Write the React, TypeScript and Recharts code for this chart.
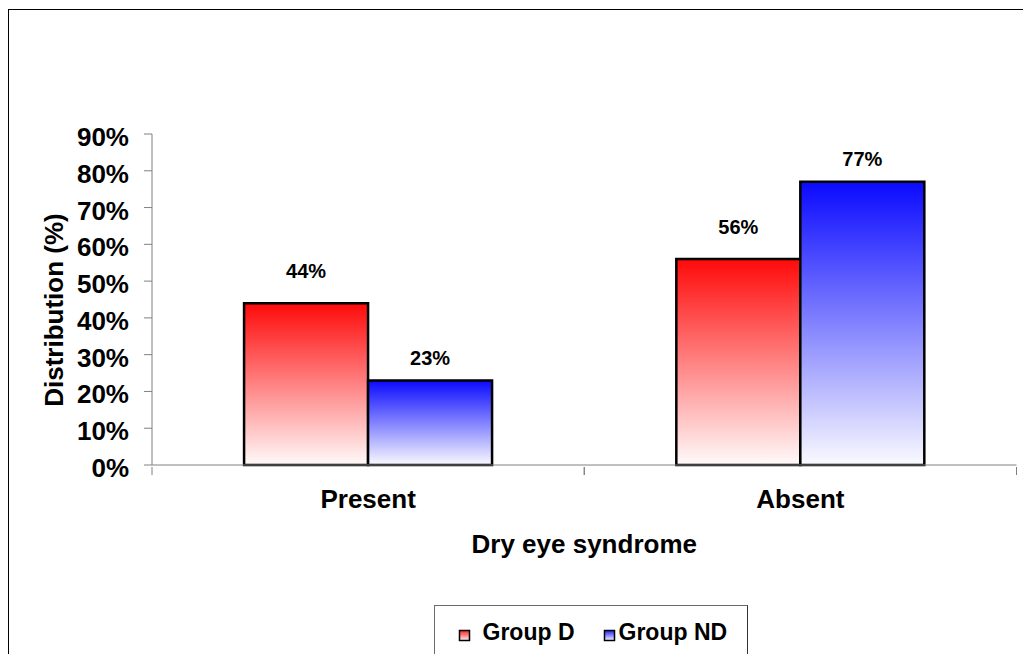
import React from 'react';
import { BarChart, Bar, XAxis, YAxis, Legend, LabelList } from 'recharts';

const categories = ['Present', 'Absent'];
const groupD = [0.44, 0.56];
const groupND = [0.23, 0.77];
const yTicks = [0, 0.1, 0.2, 0.3, 0.4, 0.5, 0.6, 0.7, 0.8, 0.9];
const seriesNames = ['Group D', 'Group ND'];
const xTitle = 'Dry eye syndrome';
const yTitle = 'Distribution (%)';

const data = categories.map((c, i) => ({ category: c, d: groupD[i], nd: groupND[i] }));

const FONT = '"Liberation Sans", Arial, Helvetica, sans-serif';
const pct = (v: number) => `${Math.round(v * 100)}%`;

const YTick = (props: any) => {
  const { x, y, payload } = props;
  return (
    <text x={x} y={y} dy={12} textAnchor="end" fontSize={26} fontWeight="bold" fontFamily={FONT} fill="#000">
      {pct(payload.value)}
    </text>
  );
};

const XTick = (props: any) => {
  const { x, y, payload } = props;
  const half = Number(payload?.offset) || 0;
  return (
    <g>
      {half > 0 && (
        <>
          <line x1={x - half} x2={x - half} y1={y} y2={y + 8} stroke="#808080" strokeWidth={1} />
          <line x1={x + half} x2={x + half} y1={y} y2={y + 8} stroke="#808080" strokeWidth={1} />
        </>
      )}
      <text x={x} y={y} dy={41} textAnchor="middle" fontSize={26} fontWeight="bold" fontFamily={FONT} fill="#000">
        {payload.value}
      </text>
    </g>
  );
};

const XTitle = (props: any) => {
  const vb = props.viewBox || {};
  return (
    <text x={vb.x + vb.width / 2} y={vb.y + 88} textAnchor="middle" fontSize={26} fontWeight="bold" fontFamily={FONT} fill="#000">
      {xTitle}
    </text>
  );
};

const YTitle = (props: any) => {
  const vb = props.viewBox || {};
  const cx = vb.x + 53.5;
  const cy = vb.y + vb.height / 2 + 10.5;
  return (
    <text x={cx} y={cy} transform={`rotate(-90 ${cx} ${cy})`} textAnchor="middle" fontSize={26} fontWeight="bold" fontFamily={FONT} fill="#000">
      {yTitle}
    </text>
  );
};

const makeLabel = (offset: number) => (p: any) => {
  const { x, y, width, value } = p;
  return (
    <text x={Number(x) + Number(width) / 2} y={Number(y) - offset} textAnchor="middle" fontSize={20} fontWeight="bold" fontFamily={FONT} fill="#000">
      {pct(Number(value))}
    </text>
  );
};

const LegendBox = () => (
  <div
    style={{
      width: 314,
      height: 49,
      boxSizing: 'border-box',
      borderLeft: '1px solid #6b6b6b',
      borderTop: '1px solid #6b6b6b',
      borderRight: '1px solid #333',
      background: '#fff',
    }}
  >
    <svg width={312} height={48} style={{ display: 'block' }}>
      <defs>
        <linearGradient id="lgRed" x1="0" y1="0" x2="0" y2="1">
          <stop offset="0%" stopColor="#ff2020" />
          <stop offset="100%" stopColor="#fff4f4" />
        </linearGradient>
        <linearGradient id="lgBlue" x1="0" y1="0" x2="0" y2="1">
          <stop offset="0%" stopColor="#2020ff" />
          <stop offset="100%" stopColor="#f4f4ff" />
        </linearGradient>
      </defs>
      <rect x={24.5} y={24.5} width={10} height={10} fill="url(#lgRed)" stroke="#000" strokeWidth={1.5} />
      <text x={47.5} y={34} fontSize={23} fontWeight="bold" fontFamily={FONT} fill="#000">{seriesNames[0]}</text>
      <rect x={169.5} y={24.5} width={10} height={10} fill="url(#lgBlue)" stroke="#000" strokeWidth={1.5} />
      <text x={183.5} y={34} fontSize={23} fontWeight="bold" fontFamily={FONT} fill="#000">{seriesNames[1]}</text>
    </svg>
  </div>
);

export default function App() {
  return (
    <div
      style={{
        position: 'absolute',
        left: 8,
        top: 9,
        width: 1015,
        height: 645,
        boxSizing: 'border-box',
        borderLeft: '1px solid #000',
        borderTop: '1px solid #000',
        background: '#fff',
        overflow: 'hidden',
      }}
    >
      <BarChart
        width={1014}
        height={644}
        data={data}
        margin={{ top: 124, right: 6.5, bottom: 89, left: 0 }}
        barCategoryGap="21.3%"
        barGap={0}
      >
        <defs>
          <linearGradient id="gradRed" x1="0" y1="0" x2="0" y2="1">
            <stop offset="0%" stopColor="#ff0a0a" />
            <stop offset="100%" stopColor="#fffafa" />
          </linearGradient>
          <linearGradient id="gradBlue" x1="0" y1="0" x2="0" y2="1">
            <stop offset="0%" stopColor="#0a0aff" />
            <stop offset="100%" stopColor="#fafaff" />
          </linearGradient>
        </defs>
        <XAxis
          xAxisId="cat"
          dataKey="category"
          height={100}
          tickSize={0}
          tickLine={false}
          axisLine={{ stroke: '#808080' }}
          tick={<XTick />}
          interval={0}
          label={{ content: <XTitle /> }}
        />
        <YAxis
          domain={[0, 0.9]}
          ticks={yTicks}
          interval={0}
          width={143}
          tickSize={8}
          tickMargin={15}
          axisLine={{ stroke: '#808080' }}
          tickLine={{ stroke: '#808080' }}
          tick={<YTick />}
          label={{ content: <YTitle /> }}
        />
        <Legend
          verticalAlign="middle"
          align="center"
          layout="horizontal"
          wrapperStyle={{ left: 425, top: 595, width: 314, height: 49 }}
          content={<LegendBox />}
        />
        <Bar xAxisId="cat" dataKey="d" name={seriesNames[0]} fill="url(#gradRed)" stroke="#000" strokeWidth={2.5} isAnimationActive={false}>
          <LabelList dataKey="d" content={makeLabel(25)} />
        </Bar>
        <Bar xAxisId="cat" dataKey="nd" name={seriesNames[1]} fill="url(#gradBlue)" stroke="#000" strokeWidth={2.5} isAnimationActive={false}>
          <LabelList dataKey="nd" content={makeLabel(15.5)} />
        </Bar>
      </BarChart>
    </div>
  );
}
